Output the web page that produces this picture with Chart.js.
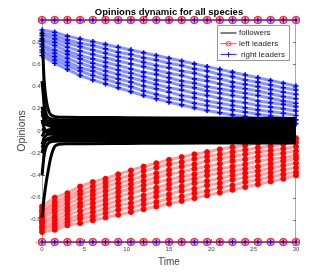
<!DOCTYPE html>
<html>
<head>
<meta charset="utf-8">
<script src="https://cdn.jsdelivr.net/npm/chart.js@4.4.1/dist/chart.umd.min.js"></script>
<style>
  html, body { margin: 0; padding: 0; background: #fff; }
  canvas { display: block; }
</style>
</head>
<body>
<canvas id="opinions-chart" width="327" height="273"></canvas>
<script>
// time samples
const LEADER_TIME = [0, 1.5, 3, 4.5, 6, 7.5, 9, 10.5, 12, 13.5, 15, 16.5, 18, 19.5, 21, 22.5, 24, 25.5, 27, 28.5, 30];
const FOLLOWER_TIME = [0, 0.25, 0.5, 0.75, 1, 1.5, 2, 3, 5, 10, 15, 20, 25, 30];

const X_TICKS = [0, 5, 10, 15, 20, 25, 30];
const Y_TICKS = [-1, -0.8, -0.6, -0.4, -0.2, 0, 0.2, 0.4, 0.6, 0.8, 1];

// followers
const FOLLOWERS = [
  [0.90, 0.46, 0.28, 0.19, 0.15, 0.13, 0.125, 0.123, 0.122, 0.12, 0.118, 0.116, 0.114, 0.112],
  [0.45, 0.25, 0.15, 0.12, 0.11, 0.104, 0.10, 0.10, 0.10, 0.098, 0.097, 0.096, 0.095, 0.094],
  [0.22, 0.14, 0.10, 0.09, 0.087, 0.085, 0.085, 0.084, 0.083, 0.082, 0.081, 0.08, 0.079, 0.078],
  [0.15, 0.11, 0.085, 0.075, 0.072, 0.07, 0.07, 0.069, 0.068, 0.066, 0.065, 0.064, 0.063, 0.062],
  [0.08, 0.064, 0.057, 0.053, 0.051, 0.05, 0.05, 0.049, 0.048, 0.047, 0.046, 0.045, 0.045, 0.044],
  [0.18, 0.10, 0.065, 0.05, 0.042, 0.037, 0.035, 0.034, 0.033, 0.032, 0.031, 0.03, 0.03, 0.029],
  [-0.05, -0.014, 0.003, 0.01, 0.013, 0.015, 0.015, 0.015, 0.014, 0.013, 0.013, 0.012, 0.012, 0.011],
  [0.02, 0.009, 0.004, 0.002, 0.001, 0, 0, 0, 0, -0.001, -0.001, -0.002, -0.002, -0.002],
  [-0.12, -0.065, -0.04, -0.03, -0.025, -0.021, -0.02, -0.02, -0.02, -0.019, -0.019, -0.018, -0.018, -0.017],
  [0.10, 0.03, -0.005, -0.02, -0.028, -0.033, -0.035, -0.035, -0.034, -0.034, -0.033, -0.032, -0.032, -0.031],
  [-0.20, -0.12, -0.08, -0.065, -0.06, -0.056, -0.055, -0.055, -0.054, -0.053, -0.052, -0.051, -0.05, -0.05],
  [-0.15, -0.105, -0.085, -0.077, -0.073, -0.071, -0.07, -0.07, -0.069, -0.068, -0.067, -0.066, -0.065, -0.064],
  [-0.40, -0.22, -0.14, -0.11, -0.098, -0.092, -0.09, -0.09, -0.089, -0.088, -0.087, -0.086, -0.085, -0.084],
  [-0.78, -0.60, -0.46, -0.35, -0.25, -0.14, -0.12, -0.115, -0.114, -0.112, -0.11, -0.109, -0.108, -0.107]
];

// right leaders (blue band)
const RIGHT_LEADERS = [
  [0.91, 0.89, 0.855, 0.83, 0.805, 0.78, 0.755, 0.73, 0.705, 0.68, 0.655, 0.63, 0.605, 0.58, 0.555, 0.53, 0.505, 0.48, 0.455, 0.43, 0.405],
  [0.88, 0.86, 0.82, 0.79, 0.77, 0.74, 0.71, 0.69, 0.66, 0.64, 0.61, 0.59, 0.56, 0.54, 0.51, 0.49, 0.46, 0.44, 0.415, 0.39, 0.37],
  [0.86, 0.83, 0.79, 0.76, 0.73, 0.70, 0.67, 0.65, 0.62, 0.59, 0.57, 0.54, 0.52, 0.49, 0.47, 0.44, 0.42, 0.40, 0.375, 0.35, 0.33],
  [0.83, 0.80, 0.755, 0.72, 0.69, 0.66, 0.63, 0.605, 0.58, 0.55, 0.52, 0.50, 0.47, 0.45, 0.425, 0.40, 0.38, 0.36, 0.335, 0.31, 0.29],
  [0.81, 0.77, 0.72, 0.68, 0.65, 0.62, 0.59, 0.56, 0.53, 0.51, 0.48, 0.45, 0.43, 0.40, 0.38, 0.36, 0.34, 0.32, 0.295, 0.27, 0.25],
  [0.78, 0.73, 0.69, 0.65, 0.61, 0.58, 0.55, 0.52, 0.49, 0.46, 0.44, 0.41, 0.39, 0.36, 0.34, 0.32, 0.30, 0.27, 0.255, 0.24, 0.22],
  [0.76, 0.70, 0.655, 0.61, 0.575, 0.54, 0.51, 0.48, 0.45, 0.42, 0.39, 0.37, 0.34, 0.32, 0.295, 0.27, 0.255, 0.23, 0.215, 0.20, 0.18],
  [0.73, 0.67, 0.62, 0.57, 0.54, 0.50, 0.47, 0.44, 0.405, 0.38, 0.35, 0.32, 0.30, 0.27, 0.25, 0.23, 0.21, 0.19, 0.175, 0.16, 0.14],
  [0.71, 0.64, 0.59, 0.54, 0.50, 0.465, 0.43, 0.40, 0.36, 0.33, 0.30, 0.28, 0.25, 0.23, 0.21, 0.19, 0.17, 0.15, 0.135, 0.12, 0.10],
  [0.68, 0.61, 0.555, 0.50, 0.46, 0.425, 0.39, 0.355, 0.32, 0.29, 0.26, 0.235, 0.21, 0.185, 0.165, 0.145, 0.13, 0.11, 0.095, 0.08, 0.065]
];

// left leaders (red band)
const LEFT_LEADERS = [
  [-0.68, -0.60, -0.56, -0.50, -0.46, -0.43, -0.39, -0.355, -0.32, -0.29, -0.26, -0.235, -0.21, -0.19, -0.165, -0.145, -0.13, -0.11, -0.095, -0.08, -0.065],
  [-0.71, -0.64, -0.59, -0.54, -0.50, -0.465, -0.43, -0.40, -0.36, -0.33, -0.30, -0.28, -0.25, -0.23, -0.21, -0.19, -0.17, -0.15, -0.135, -0.12, -0.10],
  [-0.73, -0.67, -0.62, -0.57, -0.54, -0.50, -0.47, -0.44, -0.405, -0.38, -0.35, -0.32, -0.30, -0.27, -0.25, -0.23, -0.21, -0.19, -0.175, -0.16, -0.14],
  [-0.76, -0.70, -0.655, -0.61, -0.575, -0.54, -0.51, -0.48, -0.45, -0.42, -0.39, -0.37, -0.34, -0.32, -0.295, -0.27, -0.255, -0.23, -0.215, -0.20, -0.18],
  [-0.78, -0.73, -0.69, -0.65, -0.61, -0.58, -0.55, -0.52, -0.49, -0.46, -0.44, -0.41, -0.39, -0.36, -0.34, -0.32, -0.30, -0.27, -0.255, -0.24, -0.22],
  [-0.81, -0.77, -0.72, -0.68, -0.65, -0.62, -0.59, -0.56, -0.53, -0.51, -0.48, -0.45, -0.43, -0.40, -0.38, -0.36, -0.34, -0.32, -0.295, -0.27, -0.25],
  [-0.83, -0.80, -0.755, -0.72, -0.69, -0.66, -0.63, -0.605, -0.58, -0.55, -0.52, -0.50, -0.47, -0.45, -0.425, -0.40, -0.38, -0.36, -0.335, -0.31, -0.29],
  [-0.86, -0.83, -0.79, -0.76, -0.73, -0.70, -0.67, -0.65, -0.62, -0.59, -0.57, -0.54, -0.52, -0.49, -0.47, -0.44, -0.42, -0.40, -0.375, -0.35, -0.33],
  [-0.88, -0.86, -0.82, -0.79, -0.77, -0.74, -0.71, -0.69, -0.66, -0.64, -0.61, -0.59, -0.56, -0.54, -0.51, -0.49, -0.46, -0.44, -0.415, -0.39, -0.37],
  [-0.91, -0.89, -0.85, -0.83, -0.805, -0.78, -0.755, -0.73, -0.705, -0.68, -0.655, -0.63, -0.605, -0.58, -0.555, -0.53, -0.505, -0.48, -0.455, -0.43, -0.40]
];

// leaders stuck at the extremes
const FIXED_HIGH = [1, 1, 1, 1, 1, 1, 1, 1, 1, 1, 1, 1, 1, 1, 1, 1, 1, 1, 1, 1, 1];
const FIXED_LOW = [-1, -1, -1, -1, -1, -1, -1, -1, -1, -1, -1, -1, -1, -1, -1, -1, -1, -1, -1, -1, -1];

const FONT = '"Liberation Sans", Arial, Helvetica, sans-serif';

function series(times, values) {
  return values.map((v, i) => ({ x: times[i], y: v }));
}

const datasets = [];

// index 0 is painted last, so followers sit on top
FOLLOWERS.forEach(vals => datasets.push({
  data: series(FOLLOWER_TIME, vals),
  borderColor: '#000', borderWidth: 3, pointRadius: 0,
  cubicInterpolationMode: 'monotone', clip: false
}));

[FIXED_HIGH, FIXED_LOW].forEach(vals => datasets.push({
  data: series(LEADER_TIME, vals),
  borderColor: 'rgba(0,0,255,0.35)', borderWidth: 2,
  pointStyle: 'cross', pointRadius: 2.5, pointBorderColor: '#0000ff', pointBorderWidth: 1.2,
  clip: false
}));

[FIXED_HIGH, FIXED_LOW].forEach(vals => datasets.push({
  data: series(LEADER_TIME, vals),
  borderColor: 'rgba(255,0,0,0.45)', borderWidth: 2,
  pointStyle: 'circle', pointRadius: 3.5, pointBackgroundColor: 'rgba(255,110,110,0.6)',
  pointBorderColor: '#ff2020', pointBorderWidth: 1.2,
  clip: false
}));

RIGHT_LEADERS.forEach(vals => datasets.push({
  data: series(LEADER_TIME, vals),
  borderColor: 'rgba(20,40,255,0.5)', borderWidth: 3,
  pointStyle: 'cross', pointRadius: 2.6, pointBorderColor: '#0000ff', pointBorderWidth: 1.6,
  clip: false
}));

LEFT_LEADERS.forEach(vals => datasets.push({
  data: series(LEADER_TIME, vals),
  borderColor: 'rgba(255,20,20,0.4)', borderWidth: 3,
  pointStyle: 'circle', pointRadius: 2.5, pointBackgroundColor: '#ff0000',
  pointBorderColor: '#ff0000', pointBorderWidth: 1,
  clip: false
}));

// box edges + inward tick marks, matlab style
const axesFrame = {
  id: 'axesFrame',
  beforeDatasetsDraw(chart) {
    const { ctx, chartArea: a, scales: { x, y } } = chart;
    ctx.save();
    ctx.strokeStyle = '#aaa';
    ctx.lineWidth = 1;
    ctx.beginPath();
    ctx.moveTo(a.left, a.top + 0.5); ctx.lineTo(a.right, a.top + 0.5);
    ctx.moveTo(a.right - 0.5, a.top); ctx.lineTo(a.right - 0.5, a.bottom);
    ctx.stroke();
    ctx.strokeStyle = '#777';
    ctx.beginPath();
    X_TICKS.forEach(v => {
      const px = Math.round(x.getPixelForValue(v)) + 0.5;
      ctx.moveTo(px, a.bottom); ctx.lineTo(px, a.bottom - 3);
      ctx.moveTo(px, a.top); ctx.lineTo(px, a.top + 3);
    });
    Y_TICKS.forEach(v => {
      const py = Math.round(y.getPixelForValue(v)) + 0.5;
      ctx.moveTo(a.left, py); ctx.lineTo(a.left + 3, py);
      ctx.moveTo(a.right, py); ctx.lineTo(a.right - 3, py);
    });
    ctx.stroke();
    ctx.restore();
  }
};

const legendBox = {
  id: 'legendBox',
  afterDraw(chart) {
    const { ctx, chartArea: a } = chart;
    const bx = a.right - 78.5, by = a.top + 5.5, bw = 72, bh = 35;
    ctx.save();
    ctx.fillStyle = '#fff';
    ctx.fillRect(bx, by, bw, bh);
    ctx.strokeStyle = '#999';
    ctx.lineWidth = 1;
    ctx.strokeRect(bx, by, bw, bh);

    const rows = [
      { text: 'followers', color: '#000', marker: null, dx: 0 },
      { text: 'left leaders', color: '#ff4040', marker: 'circle', dx: 0 },
      { text: 'right leaders', color: '#2020ff', marker: 'cross', dx: 2 }
    ];
    ctx.font = '8px ' + FONT;
    ctx.textBaseline = 'middle';
    rows.forEach((r, i) => {
      const ly = by + 7.5 + i * 10.7;
      const x0 = bx + 3, x1 = bx + 19, xm = (x0 + x1) / 2;
      ctx.strokeStyle = r.color;
      ctx.lineWidth = 1;
      ctx.beginPath(); ctx.moveTo(x0, ly); ctx.lineTo(x1, ly); ctx.stroke();
      if (r.marker === 'circle') {
        ctx.beginPath(); ctx.arc(xm, ly, 2.2, 0, Math.PI * 2); ctx.stroke();
      } else if (r.marker === 'cross') {
        ctx.beginPath();
        ctx.moveTo(xm, ly - 2.5); ctx.lineTo(xm, ly + 2.5);
        ctx.moveTo(xm - 2.5, ly); ctx.lineTo(xm + 2.5, ly);
        ctx.stroke();
      }
      ctx.fillStyle = '#222';
      ctx.fillText(r.text, bx + 21.5 + r.dx, ly);
    });
    ctx.restore();
  }
};

new Chart(document.getElementById('opinions-chart'), {
  type: 'line',
  data: { datasets },
  options: {
    responsive: false,
    animation: false,
    devicePixelRatio: 1,
    events: [],
    layout: { padding: { left: 4, right: 31, top: 0, bottom: 4 } },
    plugins: {
      legend: { display: false },
      tooltip: { enabled: false },
      title: {
        display: true,
        text: 'Opinions dynamic for all species',
        fullSize: false,
        color: '#000',
        font: { family: FONT, size: 9.5, weight: 'bold' },
        padding: { top: 7, bottom: 1.6 }
      }
    },
    scales: {
      x: {
        type: 'linear', min: 0, max: 30,
        afterBuildTicks: s => { s.ticks = X_TICKS.map(v => ({ value: v })); },
        afterFit: s => { s.height = 27; },
        grid: { display: false, drawTicks: false },
        border: { display: true, color: '#aaa' },
        ticks: { font: { family: FONT, size: 6 }, color: '#444', padding: 3.5, maxRotation: 0, autoSkip: false },
        title: { display: true, text: 'Time', color: '#444', font: { family: FONT, size: 10 }, padding: { top: 0, bottom: 1 } }
      },
      y: {
        type: 'linear', min: -1, max: 1,
        afterBuildTicks: s => { s.ticks = Y_TICKS.map(v => ({ value: v })); },
        afterFit: s => { s.width = 38; },
        grid: { display: false, drawTicks: false },
        border: { display: true, color: '#aaa' },
        ticks: {
          font: { family: FONT, size: 6 }, color: '#444', padding: 1.5, autoSkip: false,
          callback: v => String(+v.toFixed(1))
        },
        title: { display: true, text: 'Opinions', color: '#444', font: { family: FONT, size: 10.5 }, padding: { top: 12, bottom: 0 } }
      }
    }
  },
  plugins: [axesFrame, legendBox]
});
</script>
</body>
</html>
